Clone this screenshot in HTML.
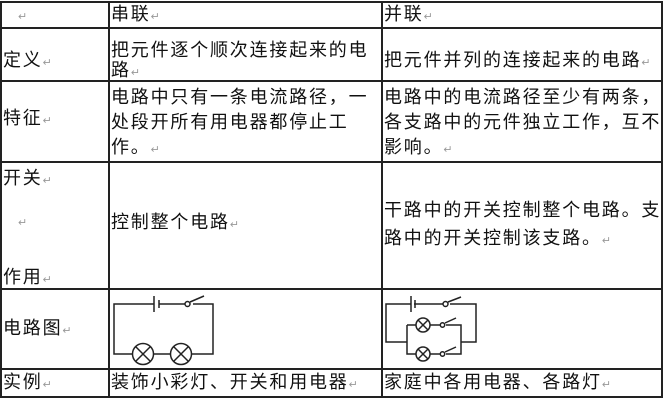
<!DOCTYPE html>
<html><head><meta charset="utf-8"><style>
body{margin:0;background:#fff;width:663px;height:400px;position:relative;overflow:hidden;font-family:"Liberation Sans","Noto Sans CJK SC","WenQuanYi Zen Hei",sans-serif;}
.t{position:absolute;font-size:18px;line-height:22px;letter-spacing:1.8px;color:#111;white-space:nowrap;}
.r{color:#999;font-size:11px;letter-spacing:0;}
.h{position:absolute;background:#222;height:2px;left:0;width:663px;}
.v{position:absolute;background:#222;width:2px;top:1px;height:397px;}
</style></head><body>
<div class="h" style="top:1px"></div>
<div class="h" style="top:27px"></div>
<div class="h" style="top:80px"></div>
<div class="h" style="top:161px"></div>
<div class="h" style="top:288px"></div>
<div class="h" style="top:368px"></div>
<div class="h" style="top:396px"></div>
<div class="v" style="left:0"></div>
<div class="v" style="left:108px"></div>
<div class="v" style="left:381px"></div>
<div class="v" style="left:661px"></div>

<div class="t" style="left:18px;top:3px"><span class="r">↵</span></div>
<div class="t" style="left:111px;top:3px">串联<span class="r">↵</span></div>
<div class="t" style="left:384px;top:3px">并联<span class="r">↵</span></div>

<div class="t" style="left:3px;top:49px">定义<span class="r">↵</span></div>
<div class="t" style="left:111px;top:39px">把元件逐个顺次连接起来的电</div>
<div class="t" style="left:111px;top:59px">路<span class="r">↵</span></div>
<div class="t" style="left:384px;top:49px">把元件并列的连接起来的电路<span class="r">↵</span></div>

<div class="t" style="left:3px;top:107px">特征<span class="r">↵</span></div>
<div class="t" style="left:111px;top:86px">电路中只有一条电流路径，一</div>
<div class="t" style="left:111px;top:111px">处段开所有用电器都停止工</div>
<div class="t" style="left:111px;top:136px">作。<span class="r">↵</span></div>
<div class="t" style="left:384px;top:86px">电路中的电流路径至少有两条，</div>
<div class="t" style="left:384px;top:111px">各支路中的元件独立工作，互不</div>
<div class="t" style="left:384px;top:136px">影响。<span class="r">↵</span></div>

<div class="t" style="left:3px;top:167px">开关<span class="r">↵</span></div>
<div class="t" style="left:18px;top:209px"><span class="r">↵</span></div>
<div class="t" style="left:3px;top:266px">作用<span class="r">↵</span></div>
<div class="t" style="left:111px;top:211px">控制整个电路<span class="r">↵</span></div>
<div class="t" style="left:384px;top:199px">干路中的开关控制整个电路。支</div>
<div class="t" style="left:384px;top:227px">路中的开关控制该支路。<span class="r">↵</span></div>

<div class="t" style="left:3px;top:317px">电路图<span class="r">↵</span></div>
<div class="t" style="left:3px;top:371px">实例<span class="r">↵</span></div>
<div class="t" style="left:111px;top:371px">装饰小彩灯、开关和用电器<span class="r">↵</span></div>
<div class="t" style="left:384px;top:371px">家庭中各用电器、各路灯<span class="r">↵</span></div>

<svg style="position:absolute;left:0;top:0" width="663" height="400" fill="none" stroke="#222" stroke-width="1.5">
<!-- series -->
<path d="M154 304H114V354H132M154 354H170M192 354H213V304H193"/>
<path d="M154 296V312M159 300V308M159 304H185"/>
<circle cx="187.5" cy="304" r="2.5"/>
<path d="M190 302L204 296"/>
<circle cx="143" cy="354" r="10.5"/><path d="M136 347L150 361M150 347L136 361"/>
<circle cx="181" cy="354" r="10.5"/><path d="M174 347L188 361M188 347L174 361"/>
<!-- parallel -->
<path d="M411 304H386V342H407M411 304V304M414 304H443M450 304H476V342H461"/>
<path d="M411 296V312M415 300V308"/>
<circle cx="445.5" cy="304" r="2.5"/><path d="M448 302L461 297"/>
<path d="M407 325V354H416M407 325H416M430 325H440M446 325H461V354H446M430 354H440"/>
<circle cx="423" cy="325" r="7"/><path d="M418 320L428 330M428 320L418 330"/>
<circle cx="423" cy="354" r="7"/><path d="M418 349L428 359M428 349L418 359"/>
<circle cx="442.5" cy="325" r="2.2"/><path d="M445 323L456 318"/>
<circle cx="442.5" cy="354" r="2.2"/><path d="M445 352L456 347"/>
</svg>
</body></html>
